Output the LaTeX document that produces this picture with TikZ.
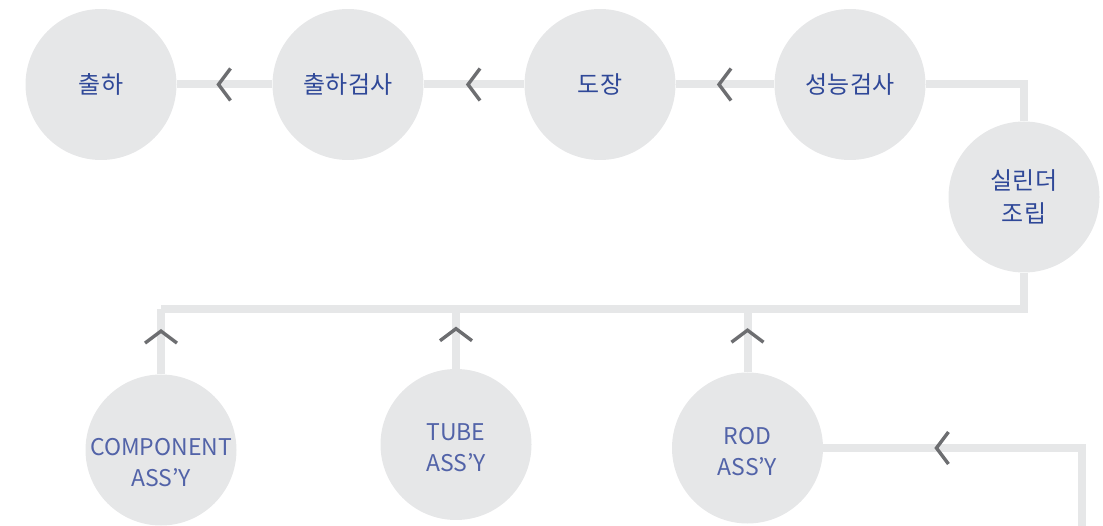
\documentclass[tikz,border=0pt]{standalone}
\usepackage{fontspec}
\setmainfont{Noto Sans CJK KR}
\usetikzlibrary{decorations.markings}
\definecolor{discgray}{HTML}{E6E7E8}
\definecolor{chevgray}{HTML}{6D6E71}
\definecolor{labelblue}{RGB}{47,72,152}
\definecolor{englishblue}{RGB}{82,99,168}

\begin{document}
\begin{tikzpicture}[x=1pt,y=-1pt,
  proc/.style={circle,fill=discgray,minimum size=151pt,inner sep=0pt,
    text=labelblue,font=\fontsize{24}{33}\selectfont,align=center},
  eng/.style={label={[font=\fontsize{23}{31}\selectfont,text=englishblue,align=center,yshift=#1]center:\engname}},
  link/.style={draw=discgray,line width=8pt,line join=miter},
  chev/.style={postaction={decorate,decoration={markings,
    mark=at position #1 with {\draw[chevgray,line width=3.4pt] (-6pt,16pt) -- (6pt,0pt) -- (-6pt,-16pt);}}}},
  chev/.default=0.5]
	\useasboundingbox (0,0) rectangle (1103,526);
	% top row
	\node[proc] (chulha) at (101,84.5) {출하};
	\node[proc] (hagum) at (348,84.5) {출하검사};
	\node[proc] (dojang) at (600,84.5) {도장};
	\node[proc] (sung) at (850,84.5) {성능검사};
	\node[proc] (cyl) at (1024,197) {실린더\\조립};
	% sub assemblies
	\def\engname{COMPONENT\\ASS’Y}
	\node[proc,eng=-13pt] (comp) at (161,450) {};
	\def\engname{TUBE\\ASS’Y}
	\node[proc,eng=-3pt] (tube) at (456,444.5) {};
	\def\engname{ROD\\ASS’Y}
	\node[proc,eng=-4pt] (rod) at (747.5,448) {};
	\coordinate (busR) at (1024,309);
	\coordinate (busL) at (comp.north |- busR);
	\coordinate (feedB) at (1082,540);
	\coordinate (feed) at (rod.east -| feedB);
	% connectors
	\draw[link,chev] (hagum) -- (chulha);
	\draw[link,chev] (dojang) -- (hagum);
	\draw[link,chev] (sung) -- (dojang);
	\draw[link] (cyl.north) |- (sung.east);
	\draw[link] (cyl.south) -- (busR) -- (busL);
	\draw[link,chev=0.57] (comp) -- (comp |- busR);
	\draw[link,chev=0.57] (tube) -- (tube |- busR);
	\draw[link,chev=0.57] (rod) -- (rod |- busR);
	\draw[link,chev=0.66] (feedB) -- (feed) -- (rod.east);
\end{tikzpicture}
\end{document}
